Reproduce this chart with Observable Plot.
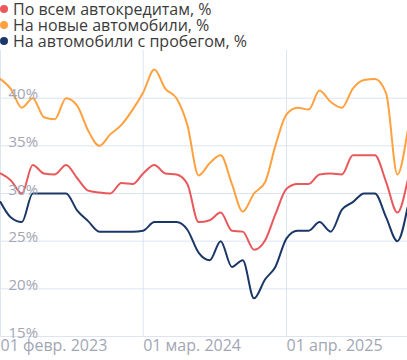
<!DOCTYPE html>
<html>
<head>
<meta charset="utf-8">
<script src="https://cdn.jsdelivr.net/npm/d3@7"></script>
<script src="https://cdn.jsdelivr.net/npm/@observablehq/plot@0.6"></script>
<style>
  html, body { margin: 0; padding: 0; background: #fff; }
  body { width: 407px; height: 360px; overflow: hidden; font-family: "Open Sans", sans-serif; }
  #legend { height: 50px; box-sizing: border-box; padding-top: 1px; font-size: 16px; line-height: 16px; color: #3b3b3b; }
  .item { display: flex; align-items: center; white-space: nowrap; }
  .dot { width: 8px; height: 8px; border-radius: 50%; margin: 0 5px 0 0; flex: none; }
  svg { display: block; }
</style>
</head>
<body>
<div id="legend"></div>
<div id="chart"></div>
<script>
const months = [
  "2023-02","2023-03","2023-04","2023-05","2023-06","2023-07","2023-08","2023-09","2023-10","2023-11","2023-12",
  "2024-01","2024-02","2024-03","2024-04","2024-05","2024-06","2024-07","2024-08","2024-09","2024-10","2024-11","2024-12",
  "2025-01","2025-02","2025-03","2025-04","2025-05","2025-06","2025-07","2025-08","2025-09","2025-10","2025-11","2025-12",
  "2026-01","2026-02","2026-03"
];
const seriesNames = ["По всем автокредитам, %", "На новые автомобили, %", "На автомобили с пробегом, %"];
const seriesColors = ["#e9585b", "#ffa13f", "#1b3767"];
const allLoans = [
  32.1,31.4,30.0,33.0,32.1,32.0,33.0,31.6,30.3,30.1,30.0,
  31.1,31.0,32.1,33.0,32.1,32.0,31.0,27.0,27.2,28.0,26.1,26.0,
  24.1,25.1,27.8,30.5,31.0,31.0,32.0,32.1,32.0,34.0,34.0,34.0,
  31.2,28.0,31.3
];
const newCars = [
  42.0,41.0,39.0,40.0,38.0,37.8,40.0,39.2,36.6,35.0,36.2,
  37.2,38.8,40.6,43.0,41.0,40.0,37.2,31.9,33.2,34.0,31.0,28.1,
  30.0,31.2,35.0,38.3,39.0,38.8,40.8,39.6,39.0,41.0,41.9,42.0,
  40.5,32.0,36.5
];
const usedCars = [
  29.1,27.5,27.0,30.0,30.0,30.0,30.0,28.2,27.1,26.0,26.0,
  26.0,26.0,26.1,27.0,27.0,27.0,26.2,23.8,23.0,25.0,22.3,23.0,
  19.0,21.0,22.3,25.3,26.1,26.1,27.0,26.0,28.3,29.1,30.0,30.0,
  27.5,25.0,28.5
];
const yTicks = [15, 20, 25, 30, 35, 40];
const xTickDates = ["2023-02-01", "2024-03-01", "2025-04-01"];
const xTickLabels = ["01 февр. 2023", "01 мар. 2024", "01 апр. 2025"];

const parse = d3.utcParse("%Y-%m");
const rows = [];
[allLoans, newCars, usedCars].forEach((vals, s) => {
  vals.forEach((v, i) => rows.push({date: parse(months[i]), value: v, series: seriesNames[s]}));
});
const xTicks = xTickDates.map(d3.utcParse("%Y-%m-%d"));
const xTickRows = xTicks.map((d, i) => ({date: d, label: xTickLabels[i]}));

const legend = document.getElementById("legend");
seriesNames.forEach((n, i) => {
  const el = document.createElement("div");
  el.className = "item";
  el.innerHTML = `<span class="dot" style="background:${seriesColors[i]}"></span><span>${n}</span>`;
  legend.appendChild(el);
});

const grid = "#dde3f1";
const tickColor = "#a2a6b4";
const chart = Plot.plot({
  width: 407,
  height: 310,
  marginTop: 0,
  marginLeft: 0,
  marginRight: 0,
  marginBottom: 24,
  style: {fontFamily: "Open Sans", fontSize: "16px", background: "#fff", overflow: "hidden"},
  x: {type: "utc", domain: [new Date(Date.UTC(2023, 1, 1)), new Date(Date.UTC(2026, 2, 1))], axis: null},
  y: {domain: [15, 45], axis: null},
  color: {domain: seriesNames, range: seriesColors},
  marks: [
    Plot.ruleY(yTicks, {stroke: grid, strokeWidth: 1}),
    Plot.ruleX(xTicks, {stroke: grid, strokeWidth: 1}),
    Plot.line(rows, {x: "date", y: "value", z: "series", stroke: "series", strokeWidth: 2, curve: "monotone-x"}),
    Plot.text(yTicks, {x: xTicks[0], y: d => d, text: d => d + "%", textAnchor: "start", lineAnchor: "bottom", dx: 8, dy: 1, fill: tickColor, fontSize: 15}),
    Plot.text(xTickRows, {x: "date", y: 15, text: "label", textAnchor: "start", lineAnchor: "top", dx: 0, dy: 3, fill: tickColor, fontSize: 16})
  ]
});
document.getElementById("chart").appendChild(chart);
</script>
</body>
</html>
